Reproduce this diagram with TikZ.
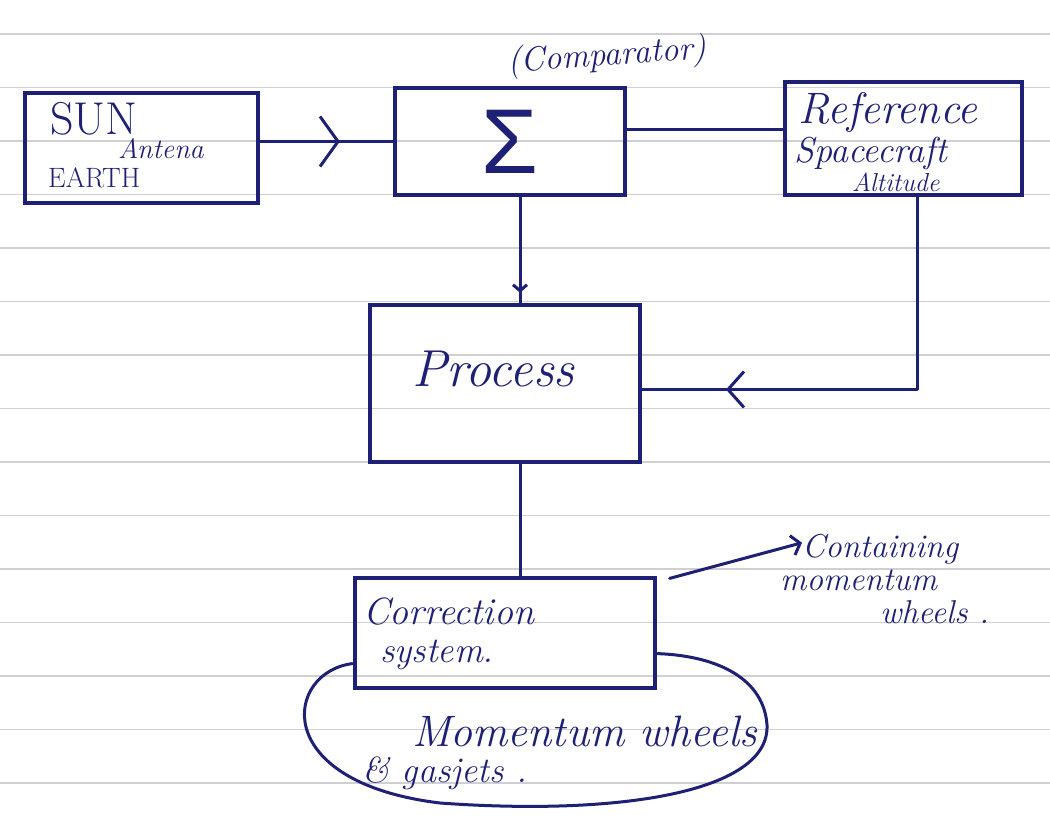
\documentclass[tikz,border=0pt]{standalone}
\usepackage{fontspec}
\newfontfamily\sigmafont{Liberation Sans}
\usetikzlibrary{arrows.meta,decorations.markings,calc}
\definecolor{ink}{RGB}{30,32,118}
\definecolor{ruling}{RGB}{208,208,212}
\begin{document}
\begin{tikzpicture}[x=1pt,y=-1pt,
  box/.style={draw=ink, line width=3.2pt, inner sep=0pt},
  wire/.style={draw=ink, line width=3pt, line cap=round, line join=round},
  hand/.style={text=ink, inner sep=0pt, anchor=base west, font=\itshape},
  print/.style={text=ink, inner sep=0pt, anchor=base west},
  midbarb/.style 2 args={postaction={decorate}, decoration={markings,
    mark=at position #1 with {\arrow{Straight Barb[#2, line width=3pt, color=ink]}}}},
  ruled/.style={draw=ruling, line width=1.1pt}
]
\useasboundingbox (0,0) rectangle (1050,816);
\fill[white] (0,0) rectangle (1050,816);

% ruled notebook lines
\foreach \k in {0,...,14}
  \draw[ruled] (0,{34+53.5*\k}) -- (1050,{34+53.5*\k});

% blocks
\node[box, minimum width=233pt, minimum height=110pt] (sun)   at (141.5,148) {};
\node[box, minimum width=230pt, minimum height=107pt] (sigma) at (510,141.5)
  {\color{ink}\fontsize{92}{92}\sigmafont Σ};
\node[box, minimum width=237pt, minimum height=113pt] (ref)   at (903.5,138.5) {};
\node[box, minimum width=270pt, minimum height=157pt] (proc)  at (505,383.5) {};
\node[box, minimum width=300pt, minimum height=110pt] (corr)  at (505,633) {};

% block texts
\node[print, font=\fontsize{46}{46}\selectfont] (tsun)   at (50,134) {SUN};
\node[hand,  font=\itshape\fontsize{28}{28}\selectfont] (tant) at (118,158) {Antena};
\node[print, font=\fontsize{28}{28}\selectfont] (tearth) at (48,187) {EARTH};
\node[hand, font=\itshape\fontsize{34}{34}\selectfont, rotate=4] (tcomp) at (508,72) {(Comparator)};
\node[hand, font=\itshape\fontsize{44}{44}\selectfont] (tref1) at (798,123) {Reference};
\node[hand, font=\itshape\fontsize{36}{36}\selectfont] (tref2) at (794,162) {Spacecraft};
\node[hand, font=\itshape\fontsize{26}{26}\selectfont] (tref3) at (852,191) {Altitude};
\node[hand, font=\itshape\fontsize{52}{52}\selectfont] (tproc) at (412,386) {Process};
\node[hand, font=\itshape\fontsize{38}{38}\selectfont] (tcor1) at (363,624) {Correction};
\node[hand, font=\itshape\fontsize{36}{36}\selectfont] (tcor2) at (380,662) {system.};

% loop of actuators below the correction system
\coordinate (loopin)  at ($(corr.south west)+(-1,-26)$);
\coordinate (loopout) at ($(corr.south east)+(1,-36)$);
\draw[wire] (loopin) .. controls (285,672) and (268,782) .. (440,803)
  .. controls (620,816) and (770,792) .. (767,725)
  .. controls (764,680) and (720,656) .. (loopout);
\node[hand, font=\itshape\fontsize{44}{44}\selectfont] (tmom) at (412,746) {Momentum wheels};
\node[hand, font=\itshape\fontsize{36}{36}\selectfont] (tgas) at (362,782) {\& gasjets .};

% side note
\node[hand, font=\itshape\fontsize{33}{33}\selectfont] (note1) at (802,557) {Containing};
\node[hand, font=\itshape\fontsize{33}{33}\selectfont] (note2) at (780,590) {momentum};
\node[hand, font=\itshape\fontsize{33}{33}\selectfont] (note3) at (880,623) {wheels .};

% connectors
\draw[wire, midbarb={0.6}{length=18pt,width=50pt}]
  (sigma.west -| sun.east) -- (sigma.west);
\draw[wire] ([yshift=9pt]ref.west) -- ([yshift=9pt]ref.west -| sigma.east);
\draw[wire, midbarb={0.9}{length=6pt,width=14pt}]
  ([xshift=10pt]sigma.south) -- ([xshift=10pt]sigma.south |- proc.north);
\draw[wire, midbarb={0.82}{length=16pt,width=36pt}]
  ([xshift=14pt]ref.south) |- ([yshift=-6pt]proc.east);
\draw[wire] ([xshift=15pt]proc.south) -- ([xshift=15pt]proc.south |- corr.north);
\draw[wire, -{Straight Barb[length=8pt,width=20pt,line width=3pt]}]
  ([xshift=13pt,yshift=-2pt]corr.north east) -- ([yshift=6pt]note1.west);
\end{tikzpicture}
\end{document}
